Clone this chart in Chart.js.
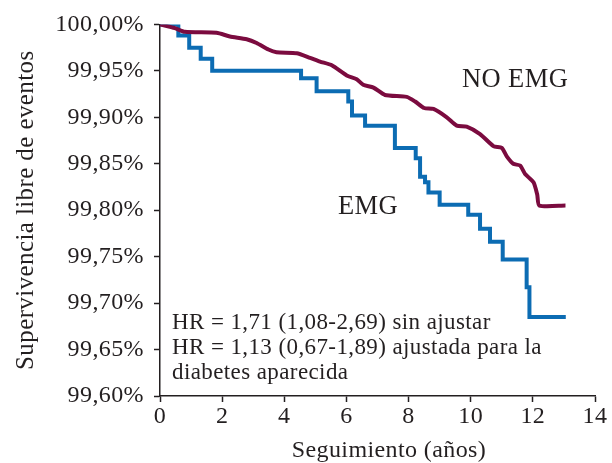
<!DOCTYPE html>
<html>
<head>
<meta charset="utf-8">
<script src="https://cdn.jsdelivr.net/npm/chart.js@4"></script>
<style>
  html, body { margin: 0; padding: 0; background: #fff; }
  #wrap { width: 612px; height: 463px; }
</style>
</head>
<body>
<div id="wrap"><canvas id="km" width="612" height="463"></canvas></div>
<script>
// years of follow-up and survival (%)
const emgYears = [0, 0.59, 0.94, 1.31, 1.68, 4.54, 5.04, 6.06, 6.18, 6.6, 7.56, 8.23, 8.37, 8.53, 8.64, 9.0, 9.92, 10.3, 10.62, 11.03, 11.8, 11.89, 13.06];
const emgSurv  = [100, 99.988, 99.975, 99.963, 99.95, 99.942, 99.928, 99.917, 99.902, 99.891, 99.867, 99.856, 99.836, 99.830, 99.819, 99.806, 99.795, 99.780, 99.766, 99.747, 99.717, 99.685, 99.685];

const noEmgYears = [0, 0.48, 0.8, 1.82, 2.25, 2.79, 3.11, 3.49, 3.75, 4.4, 4.83, 5.15, 5.53, 6.01, 6.33, 6.54, 6.87, 7.24, 7.94, 8.21, 8.5, 8.8, 9.23, 9.55, 9.87, 10.3, 10.73, 11.0, 11.16, 11.37, 11.59, 11.75, 12.02, 12.14, 12.21, 13.05];
const noEmgSurv  = [100, 99.996, 99.992, 99.991, 99.987, 99.984, 99.980, 99.973, 99.970, 99.969, 99.964, 99.960, 99.956, 99.945, 99.941, 99.935, 99.932, 99.924, 99.922, 99.917, 99.910, 99.909, 99.900, 99.891, 99.890, 99.882, 99.869, 99.867, 99.858, 99.850, 99.848, 99.839, 99.830, 99.817, 99.805, 99.805];

const xTicks = [0, 2, 4, 6, 8, 10, 12, 14];
const hrLines = [
  'HR = 1,71 (1,08-2,69) sin ajustar',
  'HR = 1,13 (0,67-1,89) ajustada para la',
  'diabetes aparecida'
];

const serif = '"Liberation Serif", "DejaVu Serif", serif';
const ink = '#231f20';
const spacing = '0.4px';

const toPoints = (xs, ys) => xs.map((x, i) => ({ x, y: ys[i] }));

// the original face is a wide Garamond, so open up the spacing a little
const spacingPlugin = {
  id: 'spacing',
  beforeLayout(chart) { chart.ctx.letterSpacing = spacing; },
  beforeDraw(chart) { chart.ctx.letterSpacing = spacing; }
};

// free text written on the plot, plus the x title
const labelsPlugin = {
  id: 'labels',
  afterDatasetsDraw(chart) {
    const { ctx, chartArea: a } = chart;
    ctx.save();
    ctx.letterSpacing = spacing;
    ctx.fillStyle = ink;
    ctx.textBaseline = 'alphabetic';
    ctx.textAlign = 'left';
    ctx.font = '26.5px ' + serif;
    ctx.fillText('NO EMG', a.left + 302, a.top + 63);
    ctx.fillText('EMG', a.left + 178, a.top + 190);
    ctx.font = '23px ' + serif;
    hrLines.forEach((t, i) => ctx.fillText(t, a.left + 12, a.top + 305 + i * 25));
    ctx.font = '24px ' + serif;
    ctx.textAlign = 'center';
    ctx.fillText('Seguimiento (años)', a.left + 229, a.bottom + 61);
    ctx.restore();
  }
};

new Chart(document.getElementById('km'), {
  type: 'line',
  data: {
    datasets: [
      {
        label: 'NO EMG',
        data: toPoints(noEmgYears, noEmgSurv),
        borderColor: '#7b0b3f',
        borderWidth: 4,
        pointRadius: 0,
        tension: 0.2
      },
      {
        label: 'EMG',
        data: toPoints(emgYears, emgSurv),
        borderColor: '#0c6cb3',
        borderWidth: 4,
        pointRadius: 0,
        stepped: 'before'
      }
    ]
  },
  options: {
    responsive: false,
    animation: false,
    layout: { padding: { top: 23, right: 17, bottom: 0, left: 0 } },
    plugins: { legend: { display: false }, tooltip: { enabled: false } },
    scales: {
      x: {
        type: 'linear',
        min: 0,
        max: 14,
        afterBuildTicks: axis => { axis.ticks = xTicks.map(v => ({ value: v })); },
        afterFit: axis => { axis.height = 67; },
        border: { color: ink, width: 1.5 },
        grid: { drawOnChartArea: false, tickLength: 6, color: ink, tickWidth: 1.5 },
        ticks: { color: ink, font: { family: serif, size: 24 }, padding: 0, maxRotation: 0 }
      },
      y: {
        min: 99.6,
        max: 100,
        afterBuildTicks: axis => {
          const t = [];
          for (let i = 0; i <= 8; i++) t.push({ value: 99.6 + i * 0.05 });
          axis.ticks = t;
        },
        afterFit: axis => { axis.width = 160; },
        border: { color: ink, width: 1.5 },
        grid: { drawOnChartArea: false, tickLength: 6, color: ink, tickWidth: 1.5 },
        ticks: {
          color: ink,
          font: { family: serif, size: 24 },
          padding: 10,
          callback: v => v.toFixed(2).replace('.', ',') + '%'
        },
        title: { display: true, text: 'Supervivencia libre de eventos', color: ink, font: { family: serif, size: 25 }, padding: { top: 11, bottom: 0 } }
      }
    }
  },
  plugins: [spacingPlugin, labelsPlugin]
});
</script>
</body>
</html>
